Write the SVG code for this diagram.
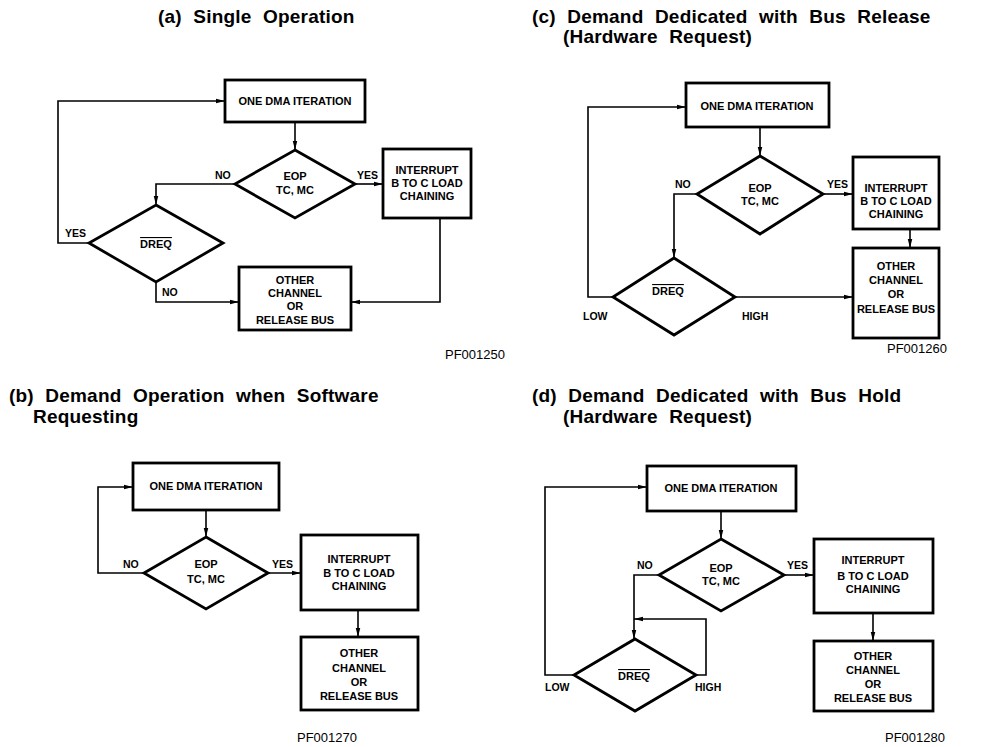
<svg xmlns="http://www.w3.org/2000/svg" width="999" height="747" viewBox="0 0 999 747">
<defs>
<marker id="arr" viewBox="0 0 10 6" refX="10" refY="3" markerWidth="9" markerHeight="6" markerUnits="userSpaceOnUse" orient="auto">
<path d="M0,0.5 L10,3 L0,5.5 Z" fill="#000"/>
</marker>
<style>
.box{fill:#fff;stroke:#000;stroke-width:2.8}
.dia{fill:#fff;stroke:#000;stroke-width:2.8}
.ln{fill:none;stroke:#000;stroke-width:1.6}
.t{font-family:"Liberation Sans",Arial,sans-serif;font-weight:bold;font-size:11px;text-anchor:middle;fill:#000}
.lb{font-family:"Liberation Sans",Arial,sans-serif;font-weight:bold;font-size:10.5px;fill:#000}
.ttl{font-family:"Liberation Sans",Arial,sans-serif;font-weight:bold;font-size:19px;letter-spacing:0.2px;word-spacing:6px;fill:#000}
.pf{font-family:"Liberation Sans",Arial,sans-serif;font-size:13px;fill:#000}
.ov{text-decoration:overline}
</style>
</defs>
<rect width="999" height="747" fill="#fff"/>

<!-- Titles -->
<g id="titles">
<text class="ttl" x="158" y="23">(a) Single Operation</text>
<text class="ttl" x="532" y="23">(c) Demand Dedicated with Bus Release</text>
<text class="ttl" x="563" y="43">(Hardware Request)</text>
<text class="ttl" x="9" y="402">(b) Demand Operation when Software</text>
<text class="ttl" x="33" y="423">Requesting</text>
<text class="ttl" x="532" y="402">(d) Demand Dedicated with Bus Hold</text>
<text class="ttl" x="563" y="423">(Hardware Request)</text>
<text class="pf" x="445" y="359">PF001250</text>
<text class="pf" x="887" y="353">PF001260</text>
<text class="pf" x="297" y="742">PF001270</text>
<text class="pf" x="885" y="742">PF001280</text>
</g>

<!-- Connectors -->
<g id="connectors">
<!-- (a) -->
<path class="ln" d="M295,122 V150" marker-end="url(#arr)"/>
<path class="ln" d="M355,184 H383" marker-end="url(#arr)"/>
<path class="ln" d="M235,184 H156 V205" marker-end="url(#arr)"/>
<path class="ln" d="M89,243 H58 V101 H225" marker-end="url(#arr)"/>
<path class="ln" d="M156,282 V302 H239" marker-end="url(#arr)"/>
<path class="ln" d="M440,218 V302 H351" marker-end="url(#arr)"/>
<!-- (c) -->
<path class="ln" d="M760,127 V156" marker-end="url(#arr)"/>
<path class="ln" d="M823,194 H853" marker-end="url(#arr)"/>
<path class="ln" d="M697,194 H674 V258" marker-end="url(#arr)"/>
<path class="ln" d="M613,297 H588 V107 H686" marker-end="url(#arr)"/>
<path class="ln" d="M735,297 H853" marker-end="url(#arr)"/>
<path class="ln" d="M910,229 V248" marker-end="url(#arr)"/>
<!-- (b) -->
<path class="ln" d="M206,510 V537" marker-end="url(#arr)"/>
<path class="ln" d="M144,573 H98 V487 H133" marker-end="url(#arr)"/>
<path class="ln" d="M268,573 H301" marker-end="url(#arr)"/>
<path class="ln" d="M358,610 V637" marker-end="url(#arr)"/>
<!-- (d) -->
<path class="ln" d="M721,511 V539" marker-end="url(#arr)"/>
<path class="ln" d="M784,575 H814" marker-end="url(#arr)"/>
<path class="ln" d="M873,613 V641" marker-end="url(#arr)"/>
<path class="ln" d="M659,575 H634 V639" marker-end="url(#arr)"/>
<path class="ln" d="M696,675 H706 V619 H634" marker-end="url(#arr)"/>
<path class="ln" d="M574,675 H545 V487 H647" marker-end="url(#arr)"/>
</g>

<!-- Connector labels -->
<g id="labels">
<text class="lb" x="215" y="179">NO</text>
<text class="lb" x="357" y="179">YES</text>
<text class="lb" x="65" y="237">YES</text>
<text class="lb" x="162" y="296">NO</text>
<text class="lb" x="675" y="188">NO</text>
<text class="lb" x="827" y="188">YES</text>
<text class="lb" x="583" y="320">LOW</text>
<text class="lb" x="742" y="320">HIGH</text>
<text class="lb" x="123" y="568">NO</text>
<text class="lb" x="272" y="568">YES</text>
<text class="lb" x="637" y="569">NO</text>
<text class="lb" x="787" y="569">YES</text>
<text class="lb" x="545" y="691">LOW</text>
<text class="lb" x="695" y="691">HIGH</text>
</g>

<!-- (a) nodes -->
<g id="a-dma"><rect class="box" x="225" y="80" width="140" height="42"/><text class="t" x="295" y="105">ONE DMA ITERATION</text></g>
<g id="a-eop"><path class="dia" d="M295,150 L355,184 L295,218 L235,184 Z"/><text class="t" x="295" y="180">EOP</text><text class="t" x="295" y="194">TC, MC</text></g>
<g id="a-int"><rect class="box" x="383" y="149" width="88" height="69"/><text class="t" x="427" y="174">INTERRUPT</text><text class="t" x="427" y="187">B TO C LOAD</text><text class="t" x="427" y="200">CHAINING</text></g>
<g id="a-dreq"><path class="dia" d="M156,205 L223,243 L156,282 L89,243 Z"/><text class="t ov" x="156" y="248">DREQ</text></g>
<g id="a-other"><rect class="box" x="239" y="267" width="112" height="63"/><text class="t" x="295" y="284">OTHER</text><text class="t" x="295" y="297">CHANNEL</text><text class="t" x="295" y="310">OR</text><text class="t" x="295" y="324">RELEASE BUS</text></g>

<!-- (c) nodes -->
<g id="c-dma"><rect class="box" x="686" y="83" width="143" height="44"/><text class="t" x="757" y="110">ONE DMA ITERATION</text></g>
<g id="c-eop"><path class="dia" d="M760,156 L823,194 L760,234 L697,194 Z"/><text class="t" x="760" y="192">EOP</text><text class="t" x="760" y="205">TC, MC</text></g>
<g id="c-int"><rect class="box" x="853" y="157" width="86" height="72"/><text class="t" x="896" y="192">INTERRUPT</text><text class="t" x="896" y="205">B TO C LOAD</text><text class="t" x="896" y="218">CHAINING</text></g>
<g id="c-dreq"><path class="dia" d="M674,258 L735,297 L674,335 L613,297 Z"/><text class="t ov" x="668" y="295">DREQ</text></g>
<g id="c-other"><rect class="box" x="853" y="248" width="86" height="90"/><text class="t" x="896" y="270">OTHER</text><text class="t" x="896" y="284">CHANNEL</text><text class="t" x="896" y="298">OR</text><text class="t" x="896" y="313">RELEASE BUS</text></g>

<!-- (b) nodes -->
<g id="b-dma"><rect class="box" x="133" y="463" width="146" height="47"/><text class="t" x="206" y="490">ONE DMA ITERATION</text></g>
<g id="b-eop"><path class="dia" d="M206,537 L268,573 L206,609 L144,573 Z"/><text class="t" x="206" y="568">EOP</text><text class="t" x="206" y="583">TC, MC</text></g>
<g id="b-int"><rect class="box" x="301" y="535" width="117" height="75"/><text class="t" x="359" y="563">INTERRUPT</text><text class="t" x="359" y="577">B TO C LOAD</text><text class="t" x="359" y="590">CHAINING</text></g>
<g id="b-other"><rect class="box" x="301" y="637" width="117" height="73"/><text class="t" x="359" y="657">OTHER</text><text class="t" x="359" y="672">CHANNEL</text><text class="t" x="359" y="686">OR</text><text class="t" x="359" y="700">RELEASE BUS</text></g>

<!-- (d) nodes -->
<g id="d-dma"><rect class="box" x="647" y="466" width="149" height="45"/><text class="t" x="721" y="492">ONE DMA ITERATION</text></g>
<g id="d-eop"><path class="dia" d="M721,539 L784,575 L721,611 L659,575 Z"/><text class="t" x="721" y="572">EOP</text><text class="t" x="721" y="585">TC, MC</text></g>
<g id="d-int"><rect class="box" x="814" y="539" width="119" height="74"/><text class="t" x="873" y="564">INTERRUPT</text><text class="t" x="873" y="580">B TO C LOAD</text><text class="t" x="873" y="593">CHAINING</text></g>
<g id="d-dreq"><path class="dia" d="M635,639 L696,675 L635,711 L574,675 Z"/><text class="t ov" x="634" y="680">DREQ</text></g>
<g id="d-other"><rect class="box" x="814" y="641" width="119" height="70"/><text class="t" x="873" y="660">OTHER</text><text class="t" x="873" y="674">CHANNEL</text><text class="t" x="873" y="688">OR</text><text class="t" x="873" y="702">RELEASE BUS</text></g>
</svg>
